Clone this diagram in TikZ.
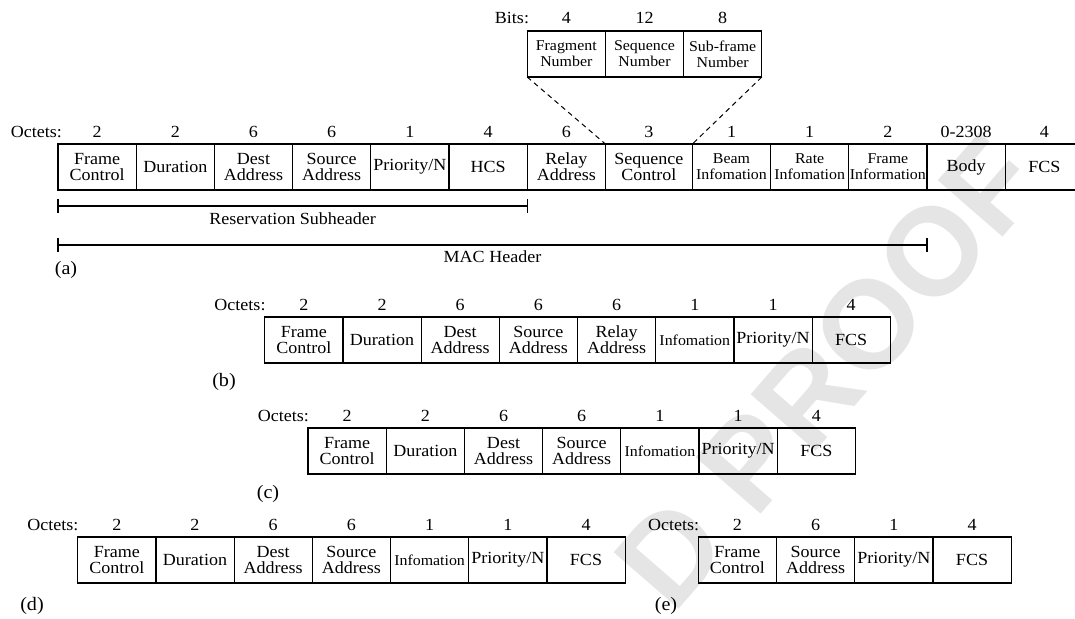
\documentclass[tikz,border=0pt]{standalone}
\usepackage{fontspec}
\setmainfont{Liberation Serif}[FakeStretch=1.06]
\newfontfamily\wmfont{Liberation Sans}
\usetikzlibrary{positioning}
\newcommand\mainfs{\fontsize{17}{16}\selectfont}
\newcommand\smfs{\fontsize{15}{16}\selectfont}
\newcommand\tagfs{\fontsize{19}{19}\selectfont}
\begin{document}
\begin{tikzpicture}[x=1pt,y=1pt,
  fld/.style={draw, line width=1.2pt, minimum width=78.2pt, minimum height=46pt,
    inner sep=0pt, outer sep=0pt, align=center, font=\mainfs, anchor=west},
  wfld/.style={fld, minimum width=87pt},
  sm/.style={font=\smfs},
  num/.style={font=\mainfs, anchor=base, inner sep=0pt},
  oct/.style={font=\mainfs, anchor=base east, inner sep=0pt},
  tag/.style={font=\mainfs, inner sep=0pt},
  sublbl/.style={font=\tagfs, inner sep=0pt},
  zoomln/.style={line width=1pt, dash pattern=on 5pt off 4pt},
  spanln/.style={line width=1.1pt},
]
\useasboundingbox (0,0) rectangle (1075,-618);
\clip (0,0) rectangle (1075,-618);

% watermark
\node[rotate=49, text=black!10, font=\wmfont\bfseries\fontsize{125}{125}\selectfont, inner sep=0pt] (wm) at (828,-372) {D PROOF};

% ---------- (a) ----------
\node[fld] (a1) at (58,-167) {Frame\\Control};
\node[fld] (a2) at (a1.east) {Duration};
\node[fld] (a3) at (a2.east) {Dest\\Address};
\node[fld] (a4) at (a3.east) {Source\\Address};
\node[fld] (a5) at (a4.east) {Priority/N};
\node[fld] (a6) at (a5.east) {HCS};
\node[fld] (a7) at (a6.east) {Relay\\Address};
\node[wfld] (a8) at (a7.east) {Sequence\\Control};
\node[fld,sm] (a9) at (a8.east) {Beam\\Infomation};
\node[fld,sm] (a10) at (a9.east) {Rate\\Infomation};
\node[fld,sm] (a11) at (a10.east) {Frame\\Information};
\node[fld] (a12) at (a11.east) {Body};
\node[fld] (a13) at (a12.east) {FCS};
\node[oct] (aoct) at ([yshift=7pt,xshift=4pt]a1.north west) {Octets:};
\foreach \n/\v in {a1/2,a2/2,a3/6,a4/6,a5/1,a6/4,a7/6,a8/3,a9/1,a10/1,a11/2,a12/0-2308,a13/4}
  \node[num] (\n n) at ([yshift=7pt]\n.north) {\v};

% bits
\node[fld,sm] (b1) at (527.2,-54) {Fragment\\Number};
\node[fld,sm] (b2) at (b1.east) {Sequence\\Number};
\node[fld,sm] (b3) at (b2.east) {Sub-frame\\Number};
\node[oct] (boct) at ([yshift=7pt,xshift=2pt]b1.north west) {Bits:};
\foreach \n/\v in {b1/4,b2/12,b3/8}
  \node[num] (\n n) at ([yshift=7pt]\n.north) {\v};
\draw[zoomln] (b1.south west) -- (a8.north west);
\draw[zoomln] (b3.south east) -- (a8.north east);

% spans
\coordinate (ry) at (0,-206);
\coordinate (my) at (0,-245);
\coordinate (rsl) at (a1.south west |- ry);
\coordinate (rsr) at (a6.south east |- ry);
\coordinate (mhl) at (a1.south west |- my);
\coordinate (mhr) at (a11.south east |- my);
\draw[spanln] (rsl) -- (rsr);
\draw[spanln] ([yshift=7pt]rsl) -- ([yshift=-7pt]rsl);
\draw[spanln] ([yshift=7pt]rsr) -- ([yshift=-7pt]rsr);
\path (rsl) -- (rsr) node[tag, midway, yshift=-13pt] (rst) {Reservation Subheader};
\draw[spanln] (mhl) -- (mhr);
\draw[spanln] ([yshift=7pt]mhl) -- ([yshift=-7pt]mhl);
\draw[spanln] ([yshift=7pt]mhr) -- ([yshift=-7pt]mhr);
\path (mhl) -- (mhr) node[tag, midway, yshift=-12pt] (mht) {MAC Header};
\node[sublbl] (la) at (66,-270) {(a)};

% ---------- (b) ----------
\node[fld] (c1) at (264.7,-340) {Frame\\Control};
\node[fld] (c2) at (c1.east) {Duration};
\node[fld] (c3) at (c2.east) {Dest\\Address};
\node[fld] (c4) at (c3.east) {Source\\Address};
\node[fld] (c5) at (c4.east) {Relay\\Address};
\node[fld,sm] (c6) at (c5.east) {Infomation};
\node[fld] (c7) at (c6.east) {Priority/N};
\node[fld] (c8) at (c7.east) {FCS};
\node[oct] (coct) at ([yshift=7pt,xshift=1pt]c1.north west) {Octets:};
\foreach \n/\v in {c1/2,c2/2,c3/6,c4/6,c5/6,c6/1,c7/1,c8/4}
  \node[num] (\n n) at ([yshift=7pt]\n.north) {\v};
\node[sublbl] (lb) at (224,-382) {(b)};

% ---------- (c) ----------
\node[fld] (d1) at (308,-451) {Frame\\Control};
\node[fld] (d2) at (d1.east) {Duration};
\node[fld] (d3) at (d2.east) {Dest\\Address};
\node[fld] (d4) at (d3.east) {Source\\Address};
\node[fld,sm] (d5) at (d4.east) {Infomation};
\node[fld] (d6) at (d5.east) {Priority/N};
\node[fld] (d7) at (d6.east) {FCS};
\node[oct] (doct) at ([yshift=7pt,xshift=1pt]d1.north west) {Octets:};
\foreach \n/\v in {d1/2,d2/2,d3/6,d4/6,d5/1,d6/1,d7/4}
  \node[num] (\n n) at ([yshift=7pt]\n.north) {\v};
\node[sublbl] (lc) at (268,-494) {(c)};

% ---------- (d) ----------
\node[fld] (e1) at (77.7,-560) {Frame\\Control};
\node[fld] (e2) at (e1.east) {Duration};
\node[fld] (e3) at (e2.east) {Dest\\Address};
\node[fld] (e4) at (e3.east) {Source\\Address};
\node[fld,sm] (e5) at (e4.east) {Infomation};
\node[fld] (e6) at (e5.east) {Priority/N};
\node[fld] (e7) at (e6.east) {FCS};
\node[oct] (eoct) at ([yshift=7pt,xshift=1pt]e1.north west) {Octets:};
\foreach \n/\v in {e1/2,e2/2,e3/6,e4/6,e5/1,e6/1,e7/4}
  \node[num] (\n n) at ([yshift=7pt]\n.north) {\v};
\node[sublbl] (ld) at (32,-606) {(d)};

% ---------- (e) ----------
\node[fld] (f1) at (698.3,-560) {Frame\\Control};
\node[fld] (f2) at (f1.east) {Source\\Address};
\node[fld] (f3) at (f2.east) {Priority/N};
\node[fld] (f4) at (f3.east) {FCS};
\node[oct] (foct) at ([yshift=7pt,xshift=1pt]f1.north west) {Octets:};
\foreach \n/\v in {f1/2,f2/6,f3/1,f4/4}
  \node[num] (\n n) at ([yshift=7pt]\n.north) {\v};
\node[sublbl] (le) at (666,-606) {(e)};
\end{tikzpicture}
\end{document}
